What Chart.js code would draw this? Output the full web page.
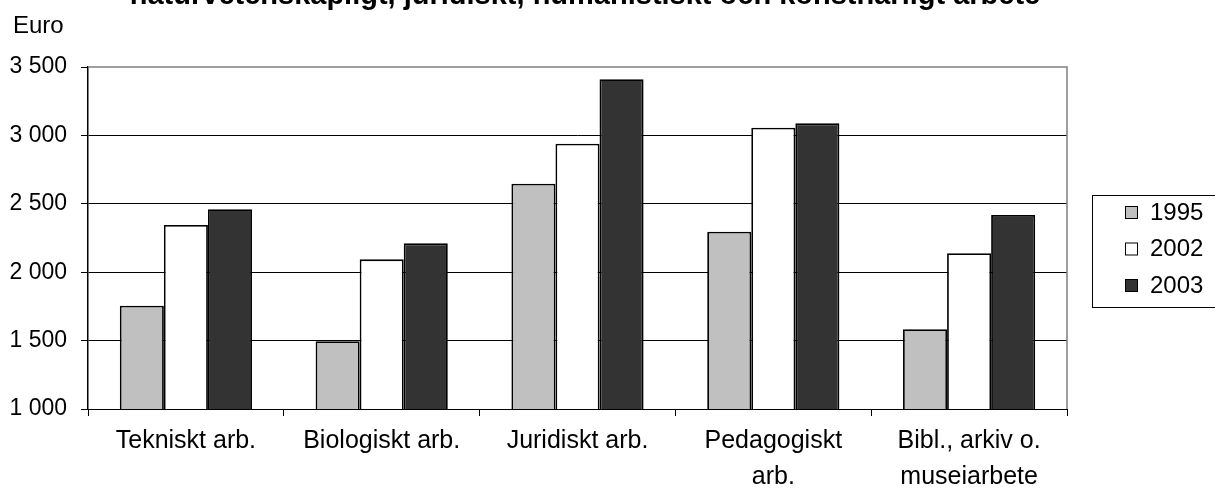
<!DOCTYPE html>
<html>
<head>
<meta charset="utf-8">
<script src="https://cdn.jsdelivr.net/npm/chart.js@4.4.1/dist/chart.umd.min.js"></script>
<style>
  html, body { margin: 0; padding: 0; background: #fff; }
  #wrap { width: 1215px; height: 490px; position: relative; }
</style>
</head>
<body>
<div id="wrap"><canvas id="salaryChart"></canvas></div>
<script>
const titleText = "naturvetenskapligt, juridiskt, humanistiskt och konstnärligt arbete";
const unitText = "Euro";

const categories = [
  "Tekniskt arb.",
  "Biologiskt arb.",
  "Juridiskt arb.",
  ["Pedagogiskt", "arb."],
  ["Bibl., arkiv o.", "museiarbete"]
];
const years = ["1995", "2002", "2003"];
const values1995 = [1755, 1495, 2647, 2296, 1583];
const values2002 = [2345, 2094, 2939, 3056, 2138];
const values2003 = [2460, 2211, 3410, 3088, 2418];
const yTicks = [1000, 1500, 2000, 2500, 3000, 3500];
const yTickLabels = ["1 000", "1 500", "2 000", "2 500", "3 000", "3 500"];

const FONT = "'Liberation Sans', Arial, sans-serif";
Chart.defaults.font.family = FONT;
Chart.defaults.color = "#000";

// title (top half is cut off in the original), unit label, frame and legend box
const decorations = {
  id: "decorations",
  beforeDatasetsDraw(chart) {
    const { ctx, chartArea } = chart;
    ctx.save();
    ctx.strokeStyle = "#808080";
    ctx.lineWidth = 1.5;
    ctx.beginPath();
    ctx.moveTo(chartArea.left, chartArea.top);
    ctx.lineTo(chartArea.right, chartArea.top);
    ctx.lineTo(chartArea.right, chartArea.bottom);
    ctx.stroke();
    ctx.restore();
  },
  afterDraw(chart) {
    const { ctx } = chart;
    ctx.save();
    ctx.fillStyle = "#000";
    ctx.textBaseline = "alphabetic";

    ctx.font = "bold 29px " + FONT;
    ctx.textAlign = "center";
    ctx.fillText(titleText, 585, 4);

    ctx.font = "24px " + FONT;
    ctx.textAlign = "left";
    ctx.fillText(unitText, 13, 33);

    // legend
    ctx.strokeStyle = "#000";
    ctx.lineWidth = 1;
    ctx.strokeRect(1092.5, 195.5, 140, 112);
    ctx.font = "24px " + FONT;
    ctx.textBaseline = "middle";
    chart.data.datasets.forEach((ds, i) => {
      const cy = 212 + i * 36.5;
      ctx.fillStyle = ds.backgroundColor;
      ctx.fillRect(1125, cy - 6, 13, 13);
      ctx.strokeStyle = "#000";
      ctx.strokeRect(1125.5, cy - 5.5, 12, 12);
      ctx.fillStyle = "#000";
      ctx.fillText(ds.label, 1150, cy + 1);
    });
    ctx.restore();
  }
};

const salaryChart = new Chart(document.getElementById("salaryChart"), {
  type: "bar",
  data: {
    labels: categories,
    datasets: [
      { label: years[0], data: values1995, backgroundColor: "#c0c0c0" },
      { label: years[1], data: values2002, backgroundColor: "#ffffff" },
      { label: years[2], data: values2003, backgroundColor: "#333333" }
    ].map(d => Object.assign(d, {
      borderColor: "#000",
      borderWidth: 1.8,
      barPercentage: 1.0,
      categoryPercentage: 0.675
    }))
  },
  options: {
    responsive: true,
    maintainAspectRatio: false,
    animation: false,
    layout: { padding: { top: 67, right: 148, left: 0, bottom: 0 } },
    plugins: {
      legend: { display: false },
      title: { display: false },
      tooltip: { enabled: false }
    },
    scales: {
      x: {
        afterFit: s => { s.height = 81; },
        grid: {
          display: true,
          offset: true,
          drawOnChartArea: false,
          drawTicks: true,
          tickLength: 7,
          color: "#000"
        },
        border: { display: true, color: "#000", width: 1 },
        ticks: {
          color: "#000",
          padding: 7,
          maxRotation: 0,
          autoSkip: false,
          font: { size: 25, lineHeight: 1.45 }
        }
      },
      y: {
        min: yTicks[0],
        max: yTicks[yTicks.length - 1],
        afterFit: s => { s.width = 88; },
        afterBuildTicks: s => { s.ticks = yTicks.map(v => ({ value: v })); },
        grid: {
          color: c => (c.tick && c.tick.value === yTicks[yTicks.length - 1]) ? "rgba(0,0,0,0)" : "#000",
          lineWidth: 1,
          tickLength: 7,
          drawTicks: true,
          tickColor: "#000"
        },
        border: { display: true, color: "#000", width: 1.5 },
        ticks: {
          color: "#000",
          padding: 14,
          font: { size: 23 },
          callback: (v, i) => yTickLabels[i]
        }
      }
    }
  },
  plugins: [decorations]
});
</script>
</body>
</html>
